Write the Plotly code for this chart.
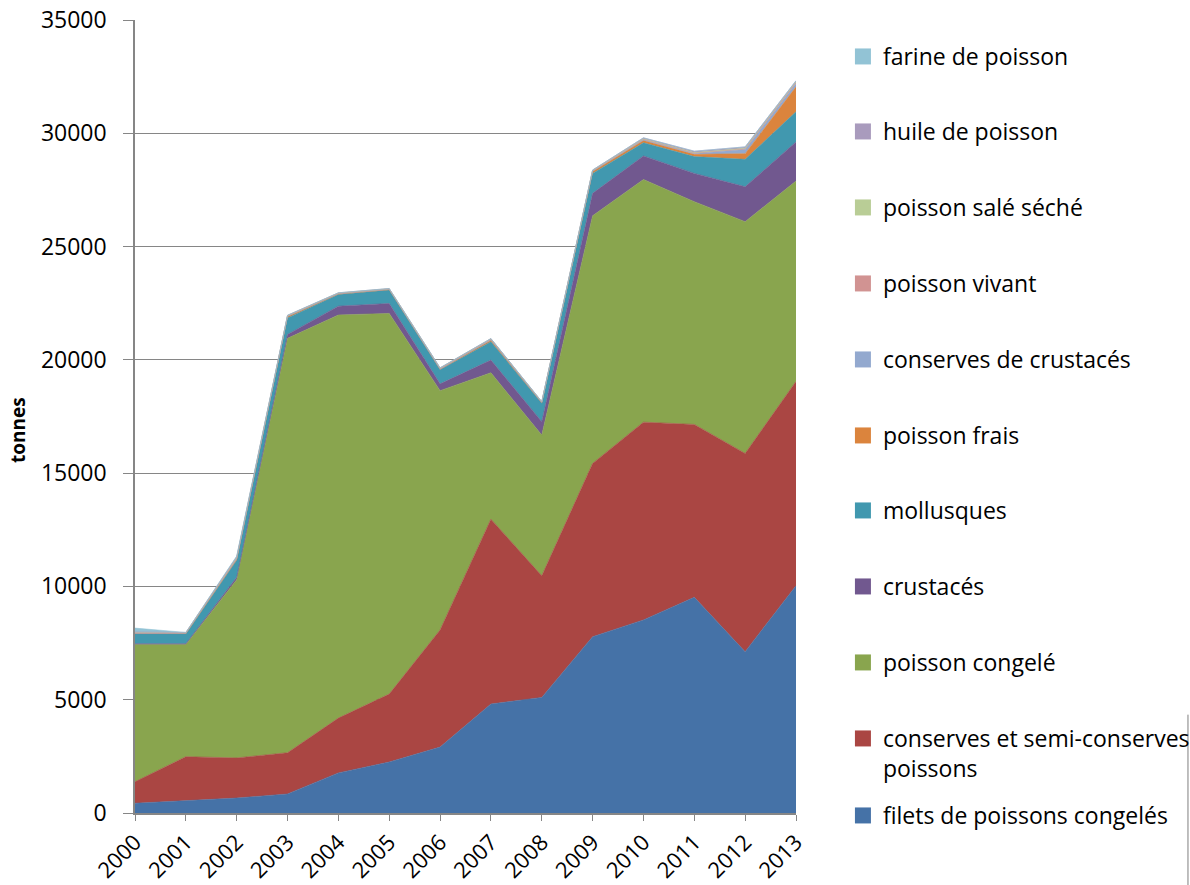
import plotly.graph_objs as go

years = list(range(2000, 2014))

filets_congeles = [430, 545, 660, 840, 1770, 2250, 2910, 4810, 5100, 7780, 8520, 9520, 7120, 10030]
conserves_poissons = [950, 1940, 1770, 1820, 2420, 3000, 5170, 8160, 5370, 7650, 8730, 7630, 8750, 9020]
poisson_congele = [6060, 4955, 7870, 18290, 17790, 16800, 10560, 6460, 6210, 10930, 10710, 9830, 10230, 8840]
crustaces = [30, 30, 100, 170, 390, 440, 300, 560, 590, 990, 1040, 1250, 1540, 1730]
mollusques = [430, 430, 750, 730, 520, 590, 620, 810, 810, 880, 580, 740, 1210, 1330]
poisson_frais = [20, 20, 40, 60, 20, 20, 30, 60, 30, 80, 100, 100, 250, 1100]
conserves_crustaces = [10, 10, 30, 10, 10, 10, 10, 20, 10, 20, 30, 40, 180, 150]
poisson_vivant = [30, 20, 40, 30, 20, 20, 30, 40, 20, 30, 40, 30, 40, 50]
poisson_sale_seche = [10, 10, 20, 10, 10, 10, 10, 10, 10, 10, 10, 10, 20, 20]
huile_poisson = [20, 10, 30, 10, 10, 10, 10, 10, 10, 10, 40, 60, 60, 50]
farine_poisson = [170, 0, 30, 0, 0, 0, 0, 0, 0, 0, 0, 0, 0, 0]

series = [
    ('filets de poissons congelés', filets_congeles, '#4572A7'),
    ('conserves et semi-conserves<br>poissons', conserves_poissons, '#AA4643'),
    ('poisson congelé', poisson_congele, '#89A54E'),
    ('crustacés', crustaces, '#71588F'),
    ('mollusques', mollusques, '#4198AF'),
    ('poisson frais', poisson_frais, '#DB843D'),
    ('conserves de crustacés', conserves_crustaces, '#93A9CF'),
    ('poisson vivant', poisson_vivant, '#D19392'),
    ('poisson salé séché', poisson_sale_seche, '#B9CD96'),
    ('huile de poisson', huile_poisson, '#A99BBD'),
    ('farine de poisson', farine_poisson, '#92C3D5'),
]

# legend rows (pixel centre of the first text line), same order as series
legend_rows = [815, 738, 662, 586, 510, 435, 359, 283, 207, 131, 56]

fig = go.Figure()
legends = {}

for i, (name, vals, color) in enumerate(series):
    key = 'legend' if i == 0 else 'legend%d' % (i + 1)

    # stacked area
    fig.add_trace(go.Scatter(
        x=years,
        y=vals,
        name=name,
        mode='lines',
        stackgroup='one',
        showlegend=False,
        line=dict(width=0.6, color=color),
        fillcolor=color,
    ))
    # square legend key, one legend box per row so rows sit where the original has them
    fig.add_trace(go.Scatter(
        x=[None],
        y=[None],
        name=name,
        mode='markers',
        legend=key,
        marker=dict(symbol='square', size=18, color=color),
    ))
    top_px = legend_rows[i] - 21
    legends[key] = dict(
        x=1.071, y=(813 - top_px) / 793,
        xanchor='left', yanchor='top',
        valign='top',
        font=dict(size=23),
        itemwidth=30,
        bgcolor='rgba(0,0,0,0)',
    )

fig.update_layout(
    width=1190,
    height=885,
    margin=dict(l=135, r=394, t=20, b=72, autoexpand=False),
    paper_bgcolor='white',
    plot_bgcolor='white',
    font=dict(family='Open Sans, sans-serif', size=23, color='black'),
    showlegend=True,
    xaxis=dict(
        range=[2000, 2013],
        tickvals=years,
        ticktext=[str(y) for y in years],
        tickangle=-45,
        tickfont=dict(size=22),
        ticks='outside',
        ticklen=6,
        tickcolor='#868686',
        showline=True,
        linecolor='#868686',
        linewidth=1.5,
        showgrid=False,
        zeroline=False,
        automargin=False,
    ),
    yaxis=dict(
        range=[0, 35000],
        dtick=5000,
        tickformat='d',
        ticks='outside',
        ticklen=10,
        ticklabelstandoff=12,
        tickcolor='#868686',
        showline=True,
        linecolor='#868686',
        linewidth=1.5,
        showgrid=True,
        gridcolor='#868686',
        gridwidth=1.2,
        zeroline=False,
        automargin=False,
    ),
    annotations=[dict(
        text='<b>tonnes</b>', textangle=-90,
        xref='paper', yref='paper', x=-0.177, y=0.483,
        xanchor='center', yanchor='middle',
        showarrow=False, font=dict(size=19),
    )],
    shapes=[dict(
        type='line', xref='paper', yref='paper',
        x0=1.593, x1=1.593, y0=0.124, y1=-0.1,
        line=dict(color='#7f7f7f', width=1),
    )],
    **legends,
)

fig.write_html("out.html", config={'displayModeBar': False},
               post_script="document.body.style.margin='0';")
